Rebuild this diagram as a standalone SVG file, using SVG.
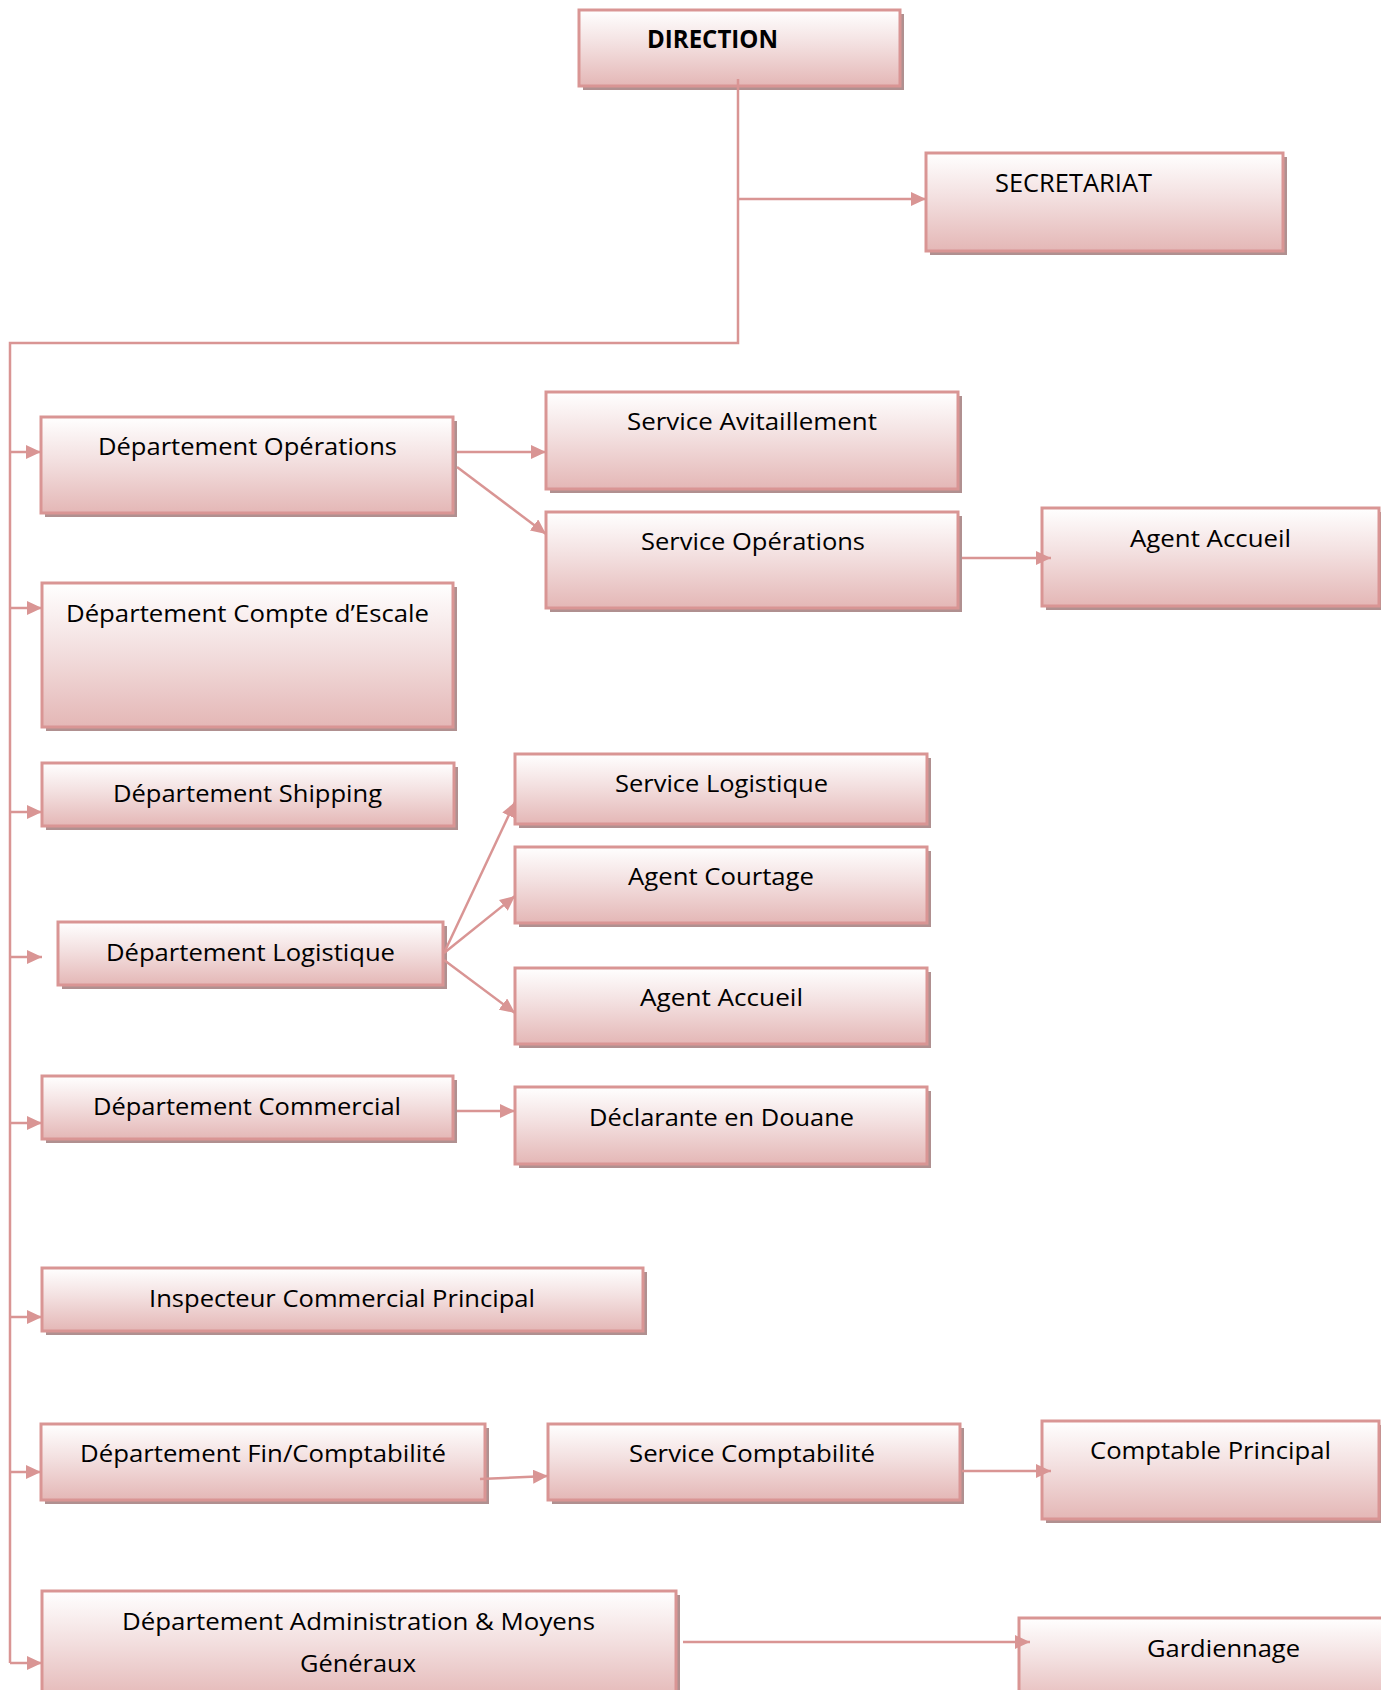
<svg xmlns="http://www.w3.org/2000/svg" width="1381" height="1690" viewBox="0 0 1381 1690">
<style>
.box{fill:url(#g);stroke:#d99594;stroke-width:3}
.sh{fill:#b09090}
.t{font-family:"Open Sans","Liberation Sans",sans-serif;font-size:23px;fill:#000}
.tb{font-family:"Open Sans","Liberation Sans",sans-serif;font-size:25px;font-weight:bold;fill:#000}
.c{fill:none;stroke:#d99594;stroke-width:2.5}
</style>
<defs>
<linearGradient id="g" x1="0" y1="0" x2="0" y2="1">
<stop offset="0" stop-color="#ffffff"/>
<stop offset="0.45" stop-color="#f3e0e0"/>
<stop offset="1" stop-color="#e4b7b6"/>
</linearGradient>
<marker id="a" markerUnits="userSpaceOnUse" markerWidth="16" markerHeight="14" refX="15" refY="7" orient="auto">
<path d="M0,0 L15,7 L0,14 Z" fill="#d99594"/>
</marker>
</defs>

<g id="direction">
<rect class="sh" x="583" y="14" width="321" height="76"/>
<rect class="box" x="579" y="10" width="321" height="76"/>
<text class="tb" x="647" y="48" textLength="131" lengthAdjust="spacingAndGlyphs">DIRECTION</text>
</g>
<g id="secretariat">
<rect class="sh" x="930" y="157" width="357" height="98"/>
<rect class="box" x="926" y="153" width="357" height="98"/>
<text class="t" style="font-size:26px" x="995" y="192" textLength="157" lengthAdjust="spacingAndGlyphs">SECRETARIAT</text>
</g>
<g id="dept-operations">
<rect class="sh" x="45" y="421" width="412" height="96"/>
<rect class="box" x="41" y="417" width="412" height="96"/>
<text class="t" x="98" y="455" textLength="299" lengthAdjust="spacingAndGlyphs">Département Opérations</text>
</g>
<g id="service-avitaillement">
<rect class="sh" x="550" y="396" width="412" height="97"/>
<rect class="box" x="546" y="392" width="412" height="97"/>
<text class="t" x="627" y="430" textLength="250" lengthAdjust="spacingAndGlyphs">Service Avitaillement</text>
</g>
<g id="service-operations">
<rect class="sh" x="550" y="516" width="412" height="96"/>
<rect class="box" x="546" y="512" width="412" height="96"/>
<text class="t" x="641" y="550" textLength="224" lengthAdjust="spacingAndGlyphs">Service Opérations</text>
</g>
<g id="agent-accueil-1">
<rect class="sh" x="1046" y="512" width="337" height="98"/>
<rect class="box" x="1042" y="508" width="337" height="98"/>
<text class="t" x="1130" y="547" textLength="161" lengthAdjust="spacingAndGlyphs">Agent Accueil</text>
</g>
<g id="dept-compte-escale">
<rect class="sh" x="46" y="587" width="411" height="144"/>
<rect class="box" x="42" y="583" width="411" height="144"/>
<text class="t" x="66" y="622" textLength="363" lengthAdjust="spacingAndGlyphs">Département Compte d’Escale</text>
</g>
<g id="dept-shipping">
<rect class="sh" x="46" y="767" width="412" height="63"/>
<rect class="box" x="42" y="763" width="412" height="63"/>
<text class="t" x="113" y="802" textLength="269" lengthAdjust="spacingAndGlyphs">Département Shipping</text>
</g>
<g id="dept-logistique">
<rect class="sh" x="62" y="926" width="385" height="63"/>
<rect class="box" x="58" y="922" width="385" height="63"/>
<text class="t" x="106" y="961" textLength="289" lengthAdjust="spacingAndGlyphs">Département Logistique</text>
</g>
<g id="service-logistique">
<rect class="sh" x="519" y="758" width="412" height="70"/>
<rect class="box" x="515" y="754" width="412" height="70"/>
<text class="t" x="615" y="792" textLength="213" lengthAdjust="spacingAndGlyphs">Service Logistique</text>
</g>
<g id="agent-courtage">
<rect class="sh" x="519" y="851" width="412" height="76"/>
<rect class="box" x="515" y="847" width="412" height="76"/>
<text class="t" x="628" y="885" textLength="186" lengthAdjust="spacingAndGlyphs">Agent Courtage</text>
</g>
<g id="agent-accueil-2">
<rect class="sh" x="519" y="972" width="412" height="76"/>
<rect class="box" x="515" y="968" width="412" height="76"/>
<text class="t" x="640" y="1006" textLength="163" lengthAdjust="spacingAndGlyphs">Agent Accueil</text>
</g>
<g id="dept-commercial">
<rect class="sh" x="46" y="1080" width="411" height="63"/>
<rect class="box" x="42" y="1076" width="411" height="63"/>
<text class="t" x="93" y="1115" textLength="308" lengthAdjust="spacingAndGlyphs">Département Commercial</text>
</g>
<g id="declarante-douane">
<rect class="sh" x="519" y="1091" width="412" height="77"/>
<rect class="box" x="515" y="1087" width="412" height="77"/>
<text class="t" x="589" y="1126" textLength="265" lengthAdjust="spacingAndGlyphs">Déclarante en Douane</text>
</g>
<g id="inspecteur">
<rect class="sh" x="46" y="1272" width="601" height="63"/>
<rect class="box" x="42" y="1268" width="601" height="63"/>
<text class="t" x="149" y="1307" textLength="386" lengthAdjust="spacingAndGlyphs">Inspecteur Commercial Principal</text>
</g>
<g id="dept-fin">
<rect class="sh" x="45" y="1428" width="444" height="76"/>
<rect class="box" x="41" y="1424" width="444" height="76"/>
<text class="t" x="80" y="1462" textLength="366" lengthAdjust="spacingAndGlyphs">Département Fin/Comptabilité</text>
</g>
<g id="service-comptabilite">
<rect class="sh" x="552" y="1428" width="412" height="76"/>
<rect class="box" x="548" y="1424" width="412" height="76"/>
<text class="t" x="629" y="1462" textLength="246" lengthAdjust="spacingAndGlyphs">Service Comptabilité</text>
</g>
<g id="comptable-principal">
<rect class="sh" x="1046" y="1425" width="337" height="98"/>
<rect class="box" x="1042" y="1421" width="337" height="98"/>
<text class="t" x="1090" y="1459" textLength="241" lengthAdjust="spacingAndGlyphs">Comptable Principal</text>
</g>
<g id="dept-administration">
<rect class="sh" x="46" y="1595" width="634" height="110"/>
<rect class="box" x="42" y="1591" width="634" height="110"/>
<text class="t" x="122" y="1630" textLength="473" lengthAdjust="spacingAndGlyphs">Département Administration &amp; Moyens</text>
<text class="t" x="300" y="1672" textLength="116" lengthAdjust="spacingAndGlyphs">Généraux</text>
</g>
<g id="gardiennage">
<rect class="sh" x="1023" y="1622" width="370" height="90"/>
<rect class="box" x="1019" y="1618" width="370" height="90"/>
<text class="t" x="1147" y="1657" textLength="153" lengthAdjust="spacingAndGlyphs">Gardiennage</text>
</g>

<g id="connectors">
<path class="c" d="M738,79 V343 H10 V1663"/>
<path class="c" d="M738,199 H926" marker-end="url(#a)"/>
<path class="c" d="M10,452 H41" marker-end="url(#a)"/>
<path class="c" d="M10,608 H42" marker-end="url(#a)"/>
<path class="c" d="M10,812 H42" marker-end="url(#a)"/>
<path class="c" d="M10,957 H42" marker-end="url(#a)"/>
<path class="c" d="M10,1123 H42" marker-end="url(#a)"/>
<path class="c" d="M10,1317 H42" marker-end="url(#a)"/>
<path class="c" d="M10,1472 H41" marker-end="url(#a)"/>
<path class="c" d="M10,1663 H42" marker-end="url(#a)"/>
<path class="c" d="M457,452 H546" marker-end="url(#a)"/>
<path class="c" d="M457,467 L546,534" marker-end="url(#a)"/>
<path class="c" d="M962,558 H1051" marker-end="url(#a)"/>
<path class="c" d="M444,953 L515,802" marker-end="url(#a)"/>
<path class="c" d="M444,953 L515,896" marker-end="url(#a)"/>
<path class="c" d="M444,960 L515,1013" marker-end="url(#a)"/>
<path class="c" d="M457,1111 H515" marker-end="url(#a)"/>
<path class="c" d="M480,1479 L548,1476" marker-end="url(#a)"/>
<path class="c" d="M962,1471 H1051" marker-end="url(#a)"/>
<path class="c" d="M683,1642 H1030" marker-end="url(#a)"/>
</g>
</svg>
